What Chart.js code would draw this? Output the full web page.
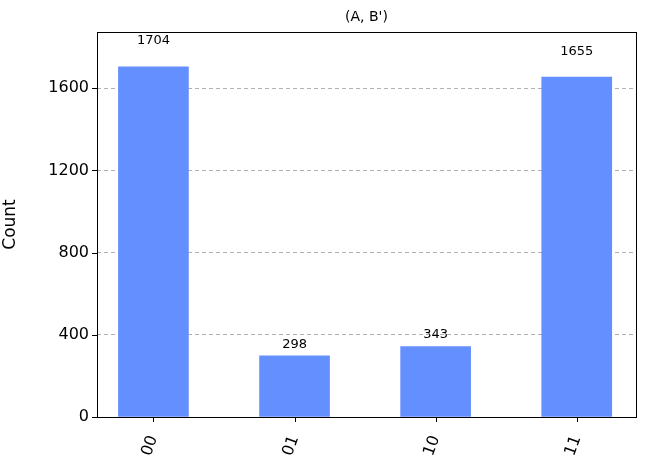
<!DOCTYPE html>
<html><head><script src="https://cdn.jsdelivr.net/npm/chart.js"></script>
<style>body{margin:0;background:#fff}#w{width:646px;height:466px}</style></head>
<body><div id="w"><canvas id="c"></canvas></div>
<script>
const categories=["00","01","10","11"];
const counts=[1704,298,343,1655];
const yTicks=[0,400,800,1200,1600];
const titleText="(A, B')";
const font="'DejaVu Sans', sans-serif";
const labelPlugin={id:'lbl',afterDraw(ch){
  const ctx=ch.ctx,y=ch.scales.y,x=ch.scales.x,a=ch.chartArea;
  ctx.save();ctx.fillStyle='#000';ctx.textAlign='center';ctx.textBaseline='bottom';
  ctx.font="13px "+font;
  counts.forEach((v,i)=>ctx.fillText(String(v),x.getPixelForValue(i),y.getPixelForValue(v*1.05)-2));
  ctx.textBaseline='middle';ctx.font="14px "+font;
  ctx.fillText(titleText,(a.left+a.right)/2,17);
  ctx.strokeStyle='#000';ctx.lineWidth=1;ctx.setLineDash([]);
  ctx.strokeRect(Math.round(a.left)+0.5,Math.round(a.top)+0.5,Math.round(a.right-a.left),Math.round(a.bottom-a.top));
  ctx.beginPath();
  yTicks.forEach(v=>{const p=Math.round(y.getPixelForValue(v))+0.5;ctx.moveTo(a.left-5,p);ctx.lineTo(a.left,p);});
  categories.forEach((c,i)=>{const p=Math.round(x.getPixelForValue(i))+0.5;ctx.moveTo(p,a.bottom);ctx.lineTo(p,a.bottom+5);});
  ctx.stroke();
  ctx.restore();}};
new Chart(document.getElementById('c'),{type:'bar',
 data:{datasets:[{data:counts.map((v,i)=>({x:i,y:v})),backgroundColor:'#648fff',barThickness:70}]},
 options:{responsive:true,maintainAspectRatio:false,animation:false,
  layout:{padding:{top:32,right:10,left:0,bottom:0}},
  plugins:{legend:{display:false},tooltip:{enabled:false}},
  scales:{
   x:{type:'linear',min:-0.4,max:3.42,offset:false,grid:{display:false},border:{display:false},afterFit(s){s.height=49;},
      afterBuildTicks(s){s.ticks=categories.map((c,i)=>({value:i}));},
      ticks:{color:'#000',font:{size:16,family:font},minRotation:70,maxRotation:70,padding:8,callback:(v)=>categories[v]}},
   y:{min:0,max:1874,afterBuildTicks(s){s.ticks=yTicks.map(v=>({value:v}));},afterFit(s){s.width=97;},
      border:{display:false,dash:[4,3]},grid:{color:'#b0b0b0',drawTicks:false},
      title:{display:true,text:'Count',color:'#000',font:{size:17,family:font},padding:{top:0,bottom:8}},
      ticks:{color:'#000',font:{size:16,family:font},padding:8,callback:(v)=>String(v)}}}},
 plugins:[labelPlugin]});
</script></body></html>
